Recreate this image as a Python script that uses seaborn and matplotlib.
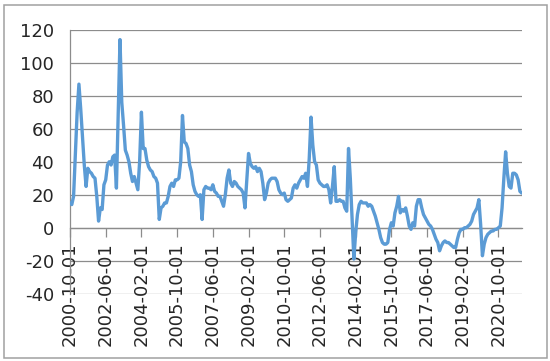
import numpy as np
import pandas as pd
import seaborn as sns
import matplotlib
matplotlib.use("Agg")
import matplotlib.pyplot as plt
from matplotlib.patches import Rectangle

# monthly series, starting 2000-10-01
start_date = "2000-10-01"
values = [
    15, 14, 19, 45, 70, 87, 72, 55, 38, 25, 36, 34,
    33, 31, 30, 19, 4, 12, 11, 26, 29, 38, 40, 38,
    43, 44, 24, 70, 114, 76, 62, 47, 44, 40, 33, 28,
    31, 27, 23, 40, 70, 48, 48, 41, 37, 35, 34, 31,
    30, 27, 5, 12, 13, 15, 15, 19, 25, 27, 25, 29,
    29, 30, 40, 68, 52, 51, 48, 38, 34, 26, 22, 20,
    19, 20, 5, 23, 25, 24, 24, 23, 26, 22, 21, 19,
    19, 16, 13, 20, 30, 35, 27, 25, 28, 27, 25, 24,
    23, 21, 12, 29, 45, 39, 37, 36, 37, 34, 36, 34,
    27, 17, 21, 27, 29, 30, 30, 30, 28, 23, 21, 20,
    21, 17, 16, 17, 18, 24, 26, 24, 27, 29, 31, 30,
    33, 25, 42, 67, 50, 40, 38, 29, 27, 26, 25, 25,
    26, 23, 15, 25, 37, 16, 16, 17, 16, 16, 12, 10,
    48, 30, 5, -19, -3, 8, 14, 16, 15, 15, 15, 13,
    14, 13, 10, 7, 3, -1, -6, -9, -10, -10, -9, -1,
    3, 1, 9, 13, 19, 9, 11, 10, 12, 7, 1, -1,
    3, 1, 13, 17, 17, 12, 8, 6, 4, 2, 1, -1,
    -4, -7, -9, -14, -11, -9, -8, -9, -9, -10, -11, -12,
    -12, -7, -3, -1, -1, 0, 0, 1, 2, 4, 8, 10,
    12, 17, 2, -17, -10, -6, -4, -3, -2, -2, -1, -1,
    0, 1, 12, 30, 46, 33, 25, 24, 33, 33, 32, 29,
    22, 21,
]
tick_step = 20
y_ticks = [-40, -20, 0, 20, 40, 60, 80, 100, 120]

dates = pd.date_range(start_date, periods=len(values), freq="MS")
df = pd.DataFrame({"pos": np.arange(len(values)), "value": values})

sns.set_style("white")
plt.rcParams["font.family"] = ["DejaVu Sans"]

fig = plt.figure(figsize=(5.5, 3.61), dpi=100)
ax = fig.add_axes([70 / 550, 1 - 293.7 / 361, 451.7 / 550, 264 / 361])

grid_col = "#8c8c8c"
for yv in y_ticks:
    ax.axhline(yv, color=grid_col, lw=0.9, zorder=0)

sns.lineplot(data=df, x="pos", y="value", color="#5B9BD5", lw=2.4, ax=ax, zorder=3)

# x axis crosses at 0 (must be set before tick labels, it resets ticks)
ax.spines["bottom"].set_position(("data", 0))
ax.spines["bottom"].set_color(grid_col)
ax.spines["bottom"].set_linewidth(0.9)
ax.spines["left"].set_color(grid_col)
ax.spines["left"].set_linewidth(0.9)
ax.spines["top"].set_visible(False)
ax.spines["right"].set_visible(False)

ax.set_xlim(0, len(values) - 1)
ax.set_ylim(-40, 120)
ax.set_yticks(y_ticks)
ax.set_yticklabels([str(v) for v in y_ticks], fontsize=13)

xt = np.arange(0, len(values), tick_step)
ax.set_xticks(xt)
ax.set_xticklabels([dates[i].strftime("%Y-%m-%d") for i in xt], rotation=90, fontsize=13)

ax.tick_params(axis="x", direction="out", length=6.5, width=0.9, color=grid_col, pad=4, bottom=True)
ax.tick_params(axis="y", length=0, pad=11.5)
ax.set_xlabel("")
ax.set_ylabel("")

fig.patches.append(Rectangle((4 / 550, 1 - 358 / 361), 543 / 550, 353.5 / 361,
                             transform=fig.transFigure, fill=False,
                             edgecolor="#a0a0a0", lw=1.1))

fig.savefig("out.png", dpi=100)
